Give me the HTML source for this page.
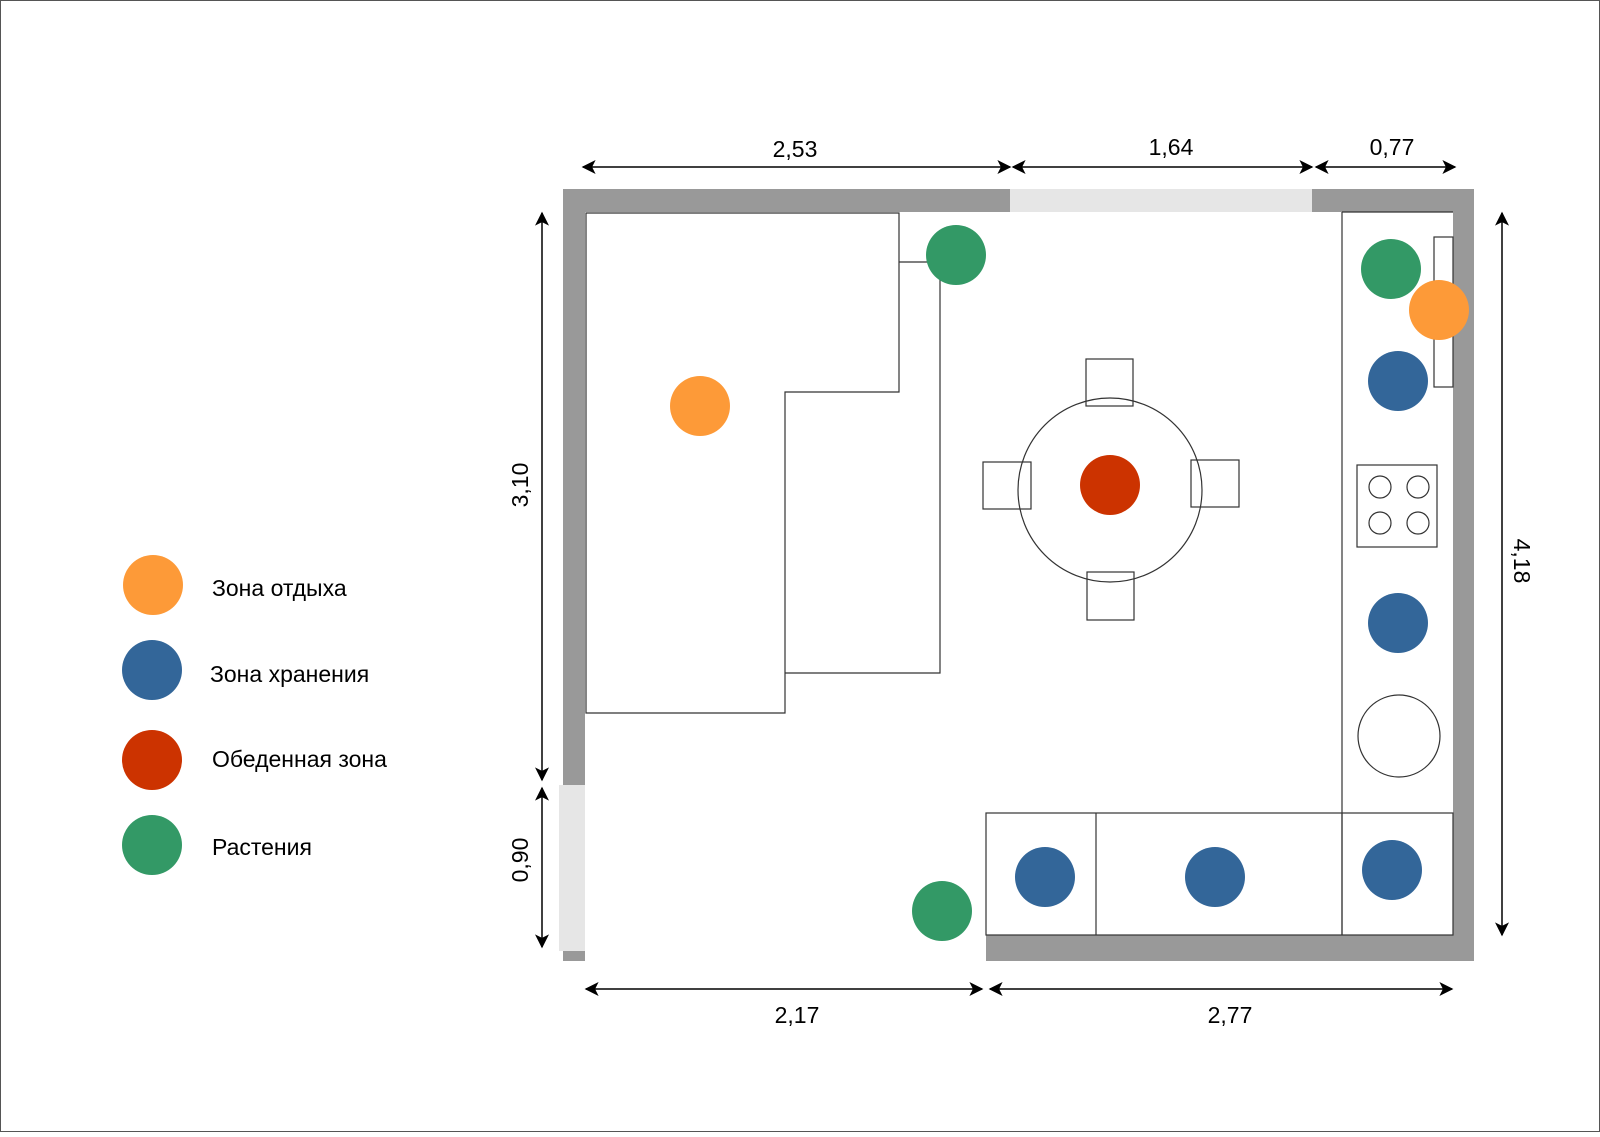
<!DOCTYPE html>
<html><head><meta charset="utf-8"><style>html,body{margin:0;padding:0;background:#fff}</style></head><body>
<svg width="1600" height="1132" xmlns="http://www.w3.org/2000/svg" font-family="Liberation Sans, sans-serif" font-size="23">
<defs><marker id="a" viewBox="0 0 10 10" refX="9" refY="5" markerWidth="16" markerHeight="14" markerUnits="userSpaceOnUse" orient="auto-start-reverse"><path d="M0,0 L10,5 L0,10 L2.5,5z" fill="#000"/></marker></defs>
<rect x="0.5" y="0.5" width="1599" height="1131" fill="#fff" stroke="#555"/>
<rect x="563" y="189" width="911" height="23" fill="#999"/>
<rect x="1010" y="189" width="302" height="23" fill="#e6e6e6"/>
<rect x="1453" y="189" width="21" height="772" fill="#999"/>
<rect x="563" y="189" width="22" height="596" fill="#999"/>
<rect x="559" y="785" width="26" height="166" fill="#e6e6e6"/>
<rect x="563" y="951" width="22" height="10" fill="#999"/>
<rect x="986" y="935" width="488" height="26" fill="#999"/>
<g fill="none" stroke="#333" stroke-width="1.2">
<path d="M586,213 H899 V392 H785 V713 H586Z"/>
<path d="M899,262 H940 V673 H785"/>
<line x1="1342" y1="212" x2="1342" y2="935"/>
<line x1="1342" y1="212" x2="1453" y2="212"/>
<rect x="1434" y="237" width="19" height="150"/>
<rect x="1357" y="465" width="80" height="82"/>
<circle cx="1380" cy="487" r="11"/><circle cx="1418" cy="487" r="11"/>
<circle cx="1380" cy="523" r="11"/><circle cx="1418" cy="523" r="11"/>
<circle cx="1399" cy="736" r="41"/>
<rect x="986" y="813" width="467" height="122"/>
<line x1="1096" y1="813" x2="1096" y2="935"/>
<line x1="1342" y1="813" x2="1342" y2="935"/>
<rect x="1086" y="359" width="47" height="47" fill="#fff"/>
<rect x="983" y="462" width="48" height="47" fill="#fff"/>
<rect x="1191" y="460" width="48" height="47" fill="#fff"/>
<rect x="1087" y="572" width="47" height="48" fill="#fff"/>
<circle cx="1110" cy="490" r="92" fill="none"/>
</g>
<g>
<circle cx="956" cy="255" r="30" fill="#339966"/>
<circle cx="700" cy="406" r="30" fill="#fd9a38"/>
<circle cx="1110" cy="485" r="30" fill="#cc3300"/>
<circle cx="1391" cy="269" r="30" fill="#339966"/>
<circle cx="1439" cy="310" r="30" fill="#fd9a38"/>
<circle cx="1398" cy="381" r="30" fill="#336699"/>
<circle cx="1398" cy="623" r="30" fill="#336699"/>
<circle cx="1045" cy="877" r="30" fill="#336699"/>
<circle cx="1215" cy="877" r="30" fill="#336699"/>
<circle cx="1392" cy="870" r="30" fill="#336699"/>
<circle cx="942" cy="911" r="30" fill="#339966"/>
</g>
<g stroke="#000" stroke-width="1.5" marker-start="url(#a)" marker-end="url(#a)">
<line x1="583" y1="167" x2="1010" y2="167"/>
<line x1="1013" y1="167" x2="1312" y2="167"/>
<line x1="1316" y1="167" x2="1455" y2="167"/>
<line x1="1502" y1="213" x2="1502" y2="935"/>
<line x1="542" y1="213" x2="542" y2="780"/>
<line x1="542" y1="788" x2="542" y2="947"/>
<line x1="586" y1="989" x2="982" y2="989"/>
<line x1="990" y1="989" x2="1452" y2="989"/>
</g>
<g text-anchor="middle" fill="#000">
<text x="795" y="157">2,53</text>
<text x="1171" y="155">1,64</text>
<text x="1392" y="155">0,77</text>
<text x="797" y="1023">2,17</text>
<text x="1230" y="1023">2,77</text>
<text transform="translate(528,485) rotate(-90)">3,10</text>
<text transform="translate(528,860) rotate(-90)">0,90</text>
<text transform="translate(1514,561) rotate(90)">4,18</text>
</g>
<circle cx="153" cy="585" r="30" fill="#fd9a38"/>
<circle cx="152" cy="670" r="30" fill="#336699"/>
<circle cx="152" cy="760" r="30" fill="#cc3300"/>
<circle cx="152" cy="845" r="30" fill="#339966"/>
<g fill="#000">
<text x="212" y="596">Зона отдыха</text>
<text x="210" y="682">Зона хранения</text>
<text x="212" y="767">Обеденная зона</text>
<text x="212" y="855">Растения</text>
</g>
</svg>
</body></html>
